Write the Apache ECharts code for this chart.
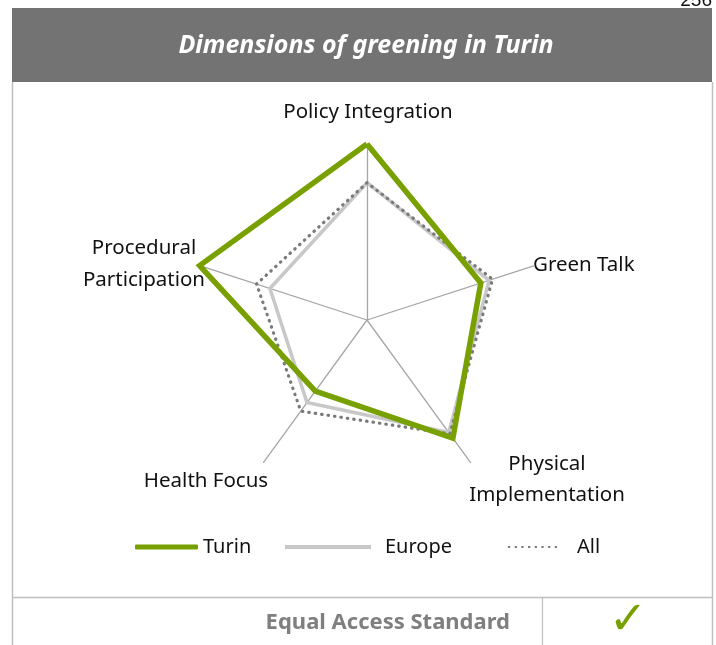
<!DOCTYPE html>
<html>
<head>
<meta charset="utf-8">
<script src="https://cdn.jsdelivr.net/npm/echarts@6/dist/echarts.min.js"></script>
<style>
  html, body { margin: 0; padding: 0; background: #fff; }
  #chart { width: 716px; height: 645px; }
</style>
</head>
<body>
<div id="chart"></div>
<script>
// radar axes, counter-clockwise from the top (ECharts order)
var indicators = ['Policy Integration', 'Procedural Participation', 'Health Focus', 'Physical Implementation', 'Green Talk'];
var turin = [1.0, 1.0, 0.5, 0.83, 0.68];
var europe = [0.78, 0.58, 0.58, 0.79, 0.73];
var allCities = [0.78, 0.66, 0.64, 0.80, 0.75];
var seriesNames = ['Turin', 'Europe', 'All'];

var chart = echarts.init(document.getElementById('chart'));
var font = 'Noto Sans';

// legend key for the dotted series: a row of small dots
var dotIcon = 'path://M0,0h2v2h-2z M6,0h2v2h-2z M12,0h2v2h-2z M18,0h2v2h-2z M24,0h2v2h-2z M30,0h2v2h-2z M36,0h2v2h-2z M42,0h2v2h-2z';
var legendText = { fontSize: 20, color: '#111', fontFamily: font };

var option = {
    animation: false,
    textStyle: { fontFamily: font },
    radar: {
        center: [367, 320],
        radius: 176,
        shape: 'polygon',
        splitNumber: 1,
        axisName: { show: false },
        indicator: indicators.map(function (n) { return { name: n, max: 1 }; }),
        axisLine: { lineStyle: { color: '#a6a6a6', width: 1.3 } },
        splitLine: { show: false },
        splitArea: { show: false }
    },
    legend: [
        {
            data: [{ name: 'Turin', icon: 'roundRect' }], left: 130, top: 532, itemWidth: 63, itemHeight: 5,
            textStyle: legendText
        },
        {
            data: [{ name: 'Europe', icon: 'rect' }], left: 280, top: 532, itemWidth: 86, itemHeight: 4,
            textStyle: Object.assign({ padding: [0, 0, 0, 9] }, legendText)
        },
        {
            data: [{ name: 'All', icon: dotIcon }], left: 503, top: 532, itemWidth: 49, itemHeight: 3,
            textStyle: Object.assign({ padding: [0, 0, 0, 15] }, legendText)
        }
    ],
    series: [{
        type: 'radar',
        symbol: 'none',
        data: [
            {
                name: seriesNames[1], value: europe,
                lineStyle: { color: '#c8c8c8', width: 3.5 },
                itemStyle: { color: '#c8c8c8' }
            },
            {
                name: seriesNames[2], value: allCities,
                lineStyle: { color: '#7a7a7a', width: 3.2, type: [0.5, 6], cap: 'round' },
                itemStyle: { color: '#7a7a7a' }
            },
            {
                name: seriesNames[0], value: turin,
                lineStyle: { color: '#77a000', width: 5.5, join: 'miter' },
                itemStyle: { color: '#77a000' }
            }
        ]
    }],
    graphic: [
        // page number, cut at the top
        { type: 'text', right: 4, top: -9, style: { text: '256', fill: '#111', font: '19px "Liberation Sans"' } },
        // header bar
        { type: 'rect', shape: { x: 12, y: 8, width: 700, height: 74 }, style: { fill: '#737373' } },
        {
            type: 'text', x: 366, y: 46,
            style: { text: 'Dimensions of greening in Turin', fill: '#fff', font: 'italic bold 25px "Noto Sans"', align: 'center', verticalAlign: 'middle' }
        },
        // frame lines
        { type: 'line', shape: { x1: 12.5, y1: 82, x2: 12.5, y2: 645 }, style: { stroke: '#bfbfbf', lineWidth: 1.5 } },
        { type: 'line', shape: { x1: 712.5, y1: 82, x2: 712.5, y2: 645 }, style: { stroke: '#bfbfbf', lineWidth: 1.5 } },
        { type: 'line', shape: { x1: 12, y1: 597.5, x2: 712, y2: 597.5 }, style: { stroke: '#bfbfbf', lineWidth: 1.5 } },
        { type: 'line', shape: { x1: 542.5, y1: 597, x2: 542.5, y2: 645 }, style: { stroke: '#bfbfbf', lineWidth: 1.2 } },
        {
            type: 'text', x: 510, y: 623,
            style: { text: 'Equal Access Standard', fill: '#7f7f7f', font: 'bold 22px "Noto Sans"', align: 'right', verticalAlign: 'middle' }
        },
        {
            type: 'text', x: 628, y: 622,
            style: { text: '✓', fill: '#77a000', font: 'italic bold 46px "DejaVu Sans"', align: 'center', verticalAlign: 'middle' }
        },
        // axis names
        { type: 'text', x: 368, y: 112, style: { text: 'Policy Integration', fill: '#111', font: '20.5px "Noto Sans"', align: 'center', verticalAlign: 'middle' } },
        { type: 'text', x: 533, y: 265, style: { text: 'Green Talk', fill: '#111', font: '20.5px "Noto Sans"', align: 'left', verticalAlign: 'middle' } },
        { type: 'text', x: 144, y: 264, style: { text: 'Procedural\nParticipation', fill: '#111', font: '20.5px "Noto Sans"', lineHeight: 32, align: 'center', verticalAlign: 'middle' } },
        { type: 'text', x: 206, y: 481, style: { text: 'Health Focus', fill: '#111', font: '20.5px "Noto Sans"', align: 'center', verticalAlign: 'middle' } },
        { type: 'text', x: 547, y: 480, style: { text: 'Physical\nImplementation', fill: '#111', font: '20.5px "Noto Sans"', lineHeight: 31, align: 'center', verticalAlign: 'middle' } }
    ]
};

chart.setOption(option);
window.addEventListener('resize', function () {
    chart.resize();
});
</script>
</body>
</html>
